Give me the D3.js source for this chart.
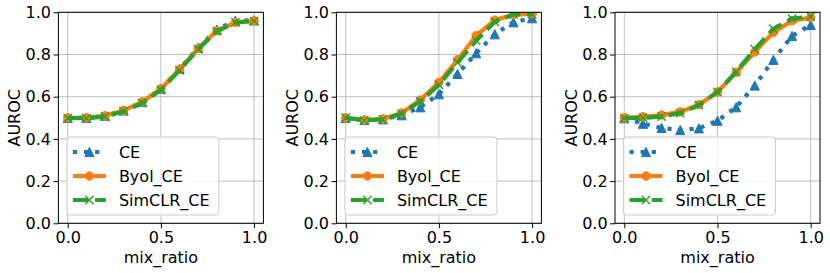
<!DOCTYPE html>
<html lang="en">
<head>
<meta charset="utf-8">
<title>AUROC vs mix_ratio</title>
<style>
  body { margin: 0; background: #fff; font-family: "DejaVu Sans", sans-serif; }
  .grid line { stroke: #b0b0b0; stroke-width: 0.8; }
  .axis text { font-size: 16px; fill: #000; font-family: "DejaVu Sans", sans-serif; }
  .axis line, .axis path { stroke: #000; }
  .label { font-size: 16px; font-family: "DejaVu Sans", sans-serif; }
</style>
</head>
<body>
<div id="chart"></div>
<script src="https://cdn.jsdelivr.net/npm/d3@7"></script>
<script>
// mix ratios shared by all three panels
var mixRatio = [0.0, 0.1, 0.2, 0.3, 0.4, 0.5, 0.6, 0.7, 0.8, 0.9, 1.0];
var xTicks = [0.0, 0.5, 1.0];
var yTicks = [0.0, 0.2, 0.4, 0.6, 0.8, 1.0];
var seriesNames = ["CE", "Byol_CE", "SimCLR_CE"];

// panel 1
var ce1     = [0.500, 0.500, 0.510, 0.535, 0.575, 0.638, 0.732, 0.832, 0.918, 0.960, 0.962];
var byol1   = [0.500, 0.500, 0.510, 0.535, 0.575, 0.638, 0.730, 0.828, 0.912, 0.952, 0.960];
var simclr1 = [0.498, 0.498, 0.506, 0.530, 0.570, 0.632, 0.725, 0.825, 0.910, 0.952, 0.958];

// panel 2
var ce2     = [0.500, 0.490, 0.493, 0.512, 0.550, 0.612, 0.708, 0.806, 0.896, 0.953, 0.972];
var byol2   = [0.500, 0.490, 0.494, 0.523, 0.584, 0.668, 0.775, 0.889, 0.963, 0.988, 0.993];
var simclr2 = [0.500, 0.488, 0.492, 0.520, 0.578, 0.656, 0.762, 0.866, 0.955, 0.990, 0.990];

// panel 3
var ce3     = [0.498, 0.472, 0.452, 0.442, 0.450, 0.486, 0.550, 0.653, 0.775, 0.888, 0.940];
var byol3   = [0.500, 0.505, 0.513, 0.528, 0.562, 0.622, 0.715, 0.812, 0.905, 0.960, 0.975];
var simclr3 = [0.498, 0.500, 0.506, 0.522, 0.560, 0.622, 0.718, 0.825, 0.922, 0.970, 0.980];

var panels = [
  [ce1, byol1, simclr1],
  [ce2, byol2, simclr2],
  [ce3, byol3, simclr3]
];

var W = 830, H = 273;
var panelLeft = [58.4, 336.4, 615];
var pw = 205, plotTop = 12.3, plotBottom = 223.3;

var styles = [
  { color: "#1f77b4", dash: "4.2,6.9", marker: "tri" },
  { color: "#ff7f0e", dash: null, marker: "circle" },
  { color: "#2ca02c", dash: "15.5,6.7", marker: "x" }
];

var svg = d3.select("#chart").append("svg")
  .attr("width", W).attr("height", H);

function drawMarker(g, kind, cx, cy, color) {
  if (kind === "circle") {
    g.append("circle").attr("cx", cx).attr("cy", cy).attr("r", 4.2)
      .attr("fill", color).attr("stroke", color).attr("stroke-width", 1);
  } else if (kind === "tri") {
    var r = 4.6;
    g.append("path")
      .attr("d", "M" + cx + "," + (cy - r) + "L" + (cx + r) + "," + (cy + r) + "L" + (cx - r) + "," + (cy + r) + "Z")
      .attr("fill", color).attr("stroke", color).attr("stroke-width", 1);
  } else {
    var s = 4.2;
    g.append("path")
      .attr("d", "M" + (cx - s) + "," + (cy - s) + "L" + (cx + s) + "," + (cy + s) + "M" + (cx - s) + "," + (cy + s) + "L" + (cx + s) + "," + (cy - s))
      .attr("stroke", color).attr("stroke-width", 1.4).attr("fill", "none");
  }
}

panels.forEach(function (series, p) {
  var x = d3.scaleLinear().domain([-0.05, 1.05]).range([panelLeft[p], panelLeft[p] + pw]);
  var y = d3.scaleLinear().domain([0, 1]).range([plotBottom, plotTop]);
  var g = svg.append("g");

  // grid
  var grid = g.append("g").attr("class", "grid");
  xTicks.forEach(function (t) {
    grid.append("line").attr("x1", x(t)).attr("x2", x(t)).attr("y1", plotTop).attr("y2", plotBottom);
  });
  yTicks.forEach(function (t) {
    grid.append("line").attr("x1", x(-0.05)).attr("x2", x(1.05)).attr("y1", y(t)).attr("y2", y(t));
  });

  // lines
  var clip = "clip" + p;
  svg.append("clipPath").attr("id", clip).append("rect")
    .attr("x", x(-0.05)).attr("y", plotTop).attr("width", pw).attr("height", plotBottom - plotTop);
  var plot = g.append("g").attr("clip-path", "url(#" + clip + ")");
  var line = d3.line().x(function (d, i) { return x(mixRatio[i]); }).y(function (d) { return y(d); });

  series.forEach(function (vals, s) {
    var st = styles[s];
    plot.append("path").datum(vals)
      .attr("d", line)
      .attr("fill", "none")
      .attr("stroke", st.color)
      .attr("stroke-width", 4.2)
      .attr("stroke-linejoin", "round")
      .attr("stroke-dasharray", st.dash);
    vals.forEach(function (v, i) {
      drawMarker(plot, st.marker, x(mixRatio[i]), y(v), st.color);
    });
  });

  // axes
  var ax = g.append("g").attr("class", "axis")
    .attr("transform", "translate(0," + plotBottom + ")")
    .call(d3.axisBottom(x).tickValues(xTicks).tickFormat(d3.format(".1f")).tickSizeOuter(0).tickSize(4.9).tickPadding(3.5));
  var ay = g.append("g").attr("class", "axis")
    .attr("transform", "translate(" + x(-0.05) + ",0)")
    .call(d3.axisLeft(y).tickValues(yTicks).tickFormat(d3.format(".1f")).tickSizeOuter(0).tickSize(4.9).tickPadding(2.5));
  ax.select(".domain").remove();
  ay.select(".domain").remove();

  g.append("rect")
    .attr("x", x(-0.05)).attr("y", plotTop).attr("width", pw).attr("height", plotBottom - plotTop)
    .attr("fill", "none").attr("stroke", "#000").attr("stroke-width", 1);

  g.append("text").attr("class", "label")
    .attr("x", x(0.5)).attr("y", 263).attr("text-anchor", "middle")
    .text("mix_ratio");
  g.append("text").attr("class", "label")
    .attr("transform", "translate(" + (panelLeft[p] - 38) + "," + ((plotTop + plotBottom) / 2) + ") rotate(-90)")
    .attr("text-anchor", "middle")
    .text("AUROC");

  // legend
  var lx = panelLeft[p] + 8.5, ly = 137, lw = 152, lh = 78;
  var lg = g.append("g");
  lg.append("rect").attr("x", lx).attr("y", ly).attr("width", lw).attr("height", lh)
    .attr("rx", 3).attr("fill", "#fff").attr("fill-opacity", 0.8)
    .attr("stroke", "#cccccc").attr("stroke-width", 1);
  seriesNames.forEach(function (name, s) {
    var st = styles[s];
    var yy = ly + 15 + s * 24;
    lg.append("line").attr("x1", lx + 6).attr("x2", lx + 39).attr("y1", yy).attr("y2", yy)
      .attr("stroke", st.color).attr("stroke-width", 4.2).attr("stroke-dasharray", st.dash);
    drawMarker(lg, st.marker, lx + 22.5, yy, st.color);
    lg.append("text").attr("class", "label").attr("x", lx + 52).attr("y", yy + 5.5).text(name);
  });
});
</script>
</body>
</html>
